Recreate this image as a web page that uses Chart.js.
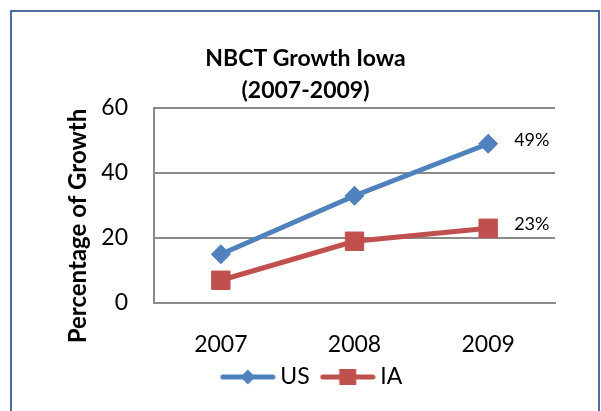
<!DOCTYPE html>
<html>
<head>
<meta charset="utf-8">
<title>NBCT Growth Iowa</title>
<script src="https://cdn.jsdelivr.net/npm/chart.js@4"></script>
<style>
    html, body { margin: 0; padding: 0; background: #fff; }
    canvas { display: block; }
</style>
</head>
<body>
<canvas id="growthChart" width="601" height="411"></canvas>
<script>
// values
const years = ['2007', '2008', '2009'];
const usGrowth = [15, 33, 49];
const iaGrowth = [7, 19, 23];
const yMin = 0;
const yMax = 60;
const yStep = 20;
const chartTitle = ['NBCT Growth Iowa', '(2007-2009)'];
const yTitle = 'Percentage of Growth';

const BLUE = '#4f81bd';
const RED = '#c0504d';
const GRID = '#8a8a8a';
const FONT = 'Lato, "DejaVu Sans", sans-serif';

Chart.defaults.font.family = FONT;
Chart.defaults.color = '#000';

// legend sample: a short line with the series marker on it (Excel style)
function legendSymbol(color, marker) {
    const c = document.createElement('canvas');
    c.width = 56;
    c.height = 20;
    const g = c.getContext('2d');
    g.strokeStyle = color;
    g.fillStyle = color;
    g.lineWidth = 5;
    g.lineCap = 'round';
    g.beginPath();
    g.moveTo(3, 10);
    g.lineTo(53, 10);
    g.stroke();
    g.beginPath();
    if (marker === 'diamond') {
        g.moveTo(20.5, 10);
        g.lineTo(28, 2.5);
        g.lineTo(35.5, 10);
        g.lineTo(28, 17.5);
    } else {
        g.rect(19.5, 2, 17, 16);
    }
    g.fill();
    return c;
}
const symbols = [legendSymbol(BLUE, 'diamond'), legendSymbol(RED, 'square')];

const chartDecor = {
    id: 'chartDecor',
    afterLayout(chart) {
        // Excel centres the legend a little right of the plot
        chart.legend.left += 9;
        chart.legend.right += 9;
        // let the year labels run into the legend band instead of being clipped
        chart.scales.x.bottom += 12;
    },
    beforeDraw(chart) {
        const ctx = chart.ctx;
        ctx.save();
        ctx.fillStyle = '#fff';
        ctx.fillRect(0, 0, chart.width, chart.height);
        ctx.strokeStyle = '#4a6fa5';
        ctx.lineWidth = 2;
        ctx.strokeRect(11, 11, 588, 440);
        ctx.restore();
    },
    afterDraw(chart) {
        const ctx = chart.ctx;
        ctx.save();
        // axis title
        ctx.translate(78, 226);
        ctx.rotate(-Math.PI / 2);
        ctx.font = 'bold 24px ' + FONT;
        ctx.fillStyle = '#000';
        ctx.textAlign = 'center';
        ctx.textBaseline = 'middle';
        ctx.fillText(yTitle, 0, 0);
        ctx.restore();

        // value labels on the last point of each series
        ctx.save();
        ctx.font = '18px ' + FONT;
        ctx.fillStyle = '#000';
        ctx.textAlign = 'left';
        ctx.textBaseline = 'middle';
        chart.data.datasets.forEach((ds, i) => {
            const meta = chart.getDatasetMeta(i);
            const last = meta.data.length - 1;
            const pt = meta.data[last];
            ctx.fillText(ds.data[last] + '%', pt.x + 26, pt.y - 4);
        });
        ctx.restore();
    }
};

new Chart(document.getElementById('growthChart'), {
    type: 'line',
    data: {
        labels: years,
        datasets: [
            {
                label: 'US',
                data: usGrowth,
                borderColor: BLUE,
                backgroundColor: BLUE,
                borderWidth: 5,
                pointStyle: 'rectRot',
                pointRadius: 9.5,
                pointBorderWidth: 1,
                pointBackgroundColor: BLUE,
                pointBorderColor: BLUE,
                tension: 0
            },
            {
                label: 'IA',
                data: iaGrowth,
                borderColor: RED,
                backgroundColor: RED,
                borderWidth: 5,
                pointStyle: 'rect',
                pointRadius: 13,
                pointBorderWidth: 1,
                pointBackgroundColor: RED,
                pointBorderColor: RED,
                tension: 0
            }
        ]
    },
    options: {
        responsive: false,
        animation: false,
        events: [],
        layout: {
            padding: { left: 56, right: 46, top: 28, bottom: 12.5 }
        },
        scales: {
            x: {
                offset: true,
                grid: { display: false, drawTicks: false },
                border: { color: GRID, width: 2 },
                ticks: { padding: 30, font: { size: 23, lineHeight: 1 } },
                afterFit(scale) { scale.height = 45.5; }
            },
            y: {
                min: yMin,
                max: yMax,
                ticks: { stepSize: yStep, padding: 26, font: { size: 23 } },
                grid: { color: GRID, lineWidth: 2, drawTicks: false },
                border: { color: GRID, width: 2 },
                afterFit(scale) { scale.width = 98; }
            }
        },
        plugins: {
            title: {
                display: true,
                text: chartTitle,
                color: '#000',
                font: { size: 23, weight: 'bold', lineHeight: 32 / 23 },
                padding: { top: 15, bottom: 1 }
            },
            legend: {
                position: 'bottom',
                labels: {
                    usePointStyle: true,
                    pointStyleWidth: 42,
                    padding: 17,
                    font: { size: 23 },
                    generateLabels(chart) {
                        const items = Chart.defaults.plugins.legend.labels.generateLabels(chart);
                        items.forEach((it, i) => { it.pointStyle = symbols[i]; });
                        return items;
                    }
                }
            },
            tooltip: { enabled: false }
        }
    },
    plugins: [chartDecor]
});
</script>
</body>
</html>
